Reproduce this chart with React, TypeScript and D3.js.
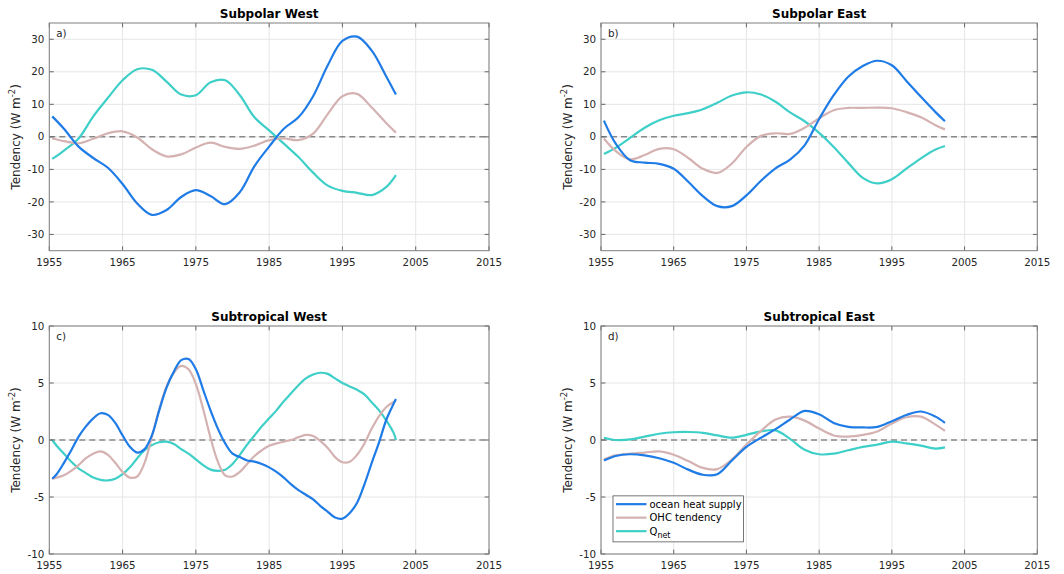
import React from 'react';
import * as d3 from 'd3';

const W = 1064;
const H = 574;
const FONT = 'DejaVu Sans, sans-serif';

// colours
const C_OHS = '#1f7be6';
const C_OHC = '#d5b2b2';
const C_QNET = '#3ecfc8';

// shared x ticks
const xTicks = [1955, 1965, 1975, 1985, 1995, 2005, 2015];
const yTicksPolar = [-30, -20, -10, 0, 10, 20, 30];
const yTicksTrop = [-10, -5, 0, 5, 10];

// coarse years (panels a, b, d)
const years = [1955.4, 1957, 1959, 1961, 1963, 1965, 1967, 1969, 1971, 1973, 1975, 1977, 1979,
  1981, 1983, 1985, 1987, 1989, 1991, 1993, 1995, 1997, 1999, 2001, 2002.3];

// annual years (panel c)
const yearsAnnual = [1955.4, 1956, 1957, 1958, 1959, 1960, 1961, 1962, 1963, 1964, 1965, 1966, 1967,
  1968, 1969, 1970, 1971, 1972, 1973, 1974, 1975, 1976, 1977, 1978, 1979, 1980, 1981, 1982, 1983,
  1984, 1985, 1986, 1987, 1988, 1989, 1990, 1991, 1992, 1993, 1994, 1995, 1996, 1997, 1998, 1999,
  2000, 2001, 2002, 2002.3];

// a) Subpolar West
const spwOHS = [6.3, 2.5, -3, -6.5, -9.5, -14.5, -20.5, -24, -22.5, -18.5, -16.4, -18.2, -20.7,
  -17, -9, -3, 2.5, 6, 12.5, 22, 29.5, 30.8, 26.5, 18.5, 13];
const spwOHC = [-0.5, -1.3, -2, -0.6, 1.1, 1.7, -0.2, -3.8, -6, -5.4, -3.3, -1.8, -3.1,
  -3.7, -2.7, -1, -0.5, -1, 1, 7, 12.5, 13.2, 9, 4.2, 1.3];
const spwQnet = [-6.8, -4.2, -0.5, 6.3, 12, 17.4, 20.8, 20.6, 17, 13, 12.8, 16.8, 17.4,
  12.8, 6, 2, -2.1, -6.2, -11, -15, -16.6, -17.2, -17.9, -15.4, -11.8];

// b) Subpolar East
const speOHS = [5, -2, -7.2, -7.9, -8.3, -9.8, -13.8, -18.2, -21.3, -21.3, -18, -13.5, -9.7,
  -7, -2.6, 5.5, 12.8, 18.5, 21.8, 23.4, 22, 17.2, 12.3, 7.6, 4.8];
const speOHC = [-0.5, -4.3, -6.9, -5.6, -3.7, -3.8, -6.5, -9.8, -11.1, -8.2, -3.1, 0.3, 1.1,
  0.9, 2.8, 5.7, 8.2, 8.9, 8.9, 9, 8.8, 7.6, 6, 3.6, 2.3];
const speQnet = [-5.3, -3.4, -0.3, 2.8, 5.1, 6.5, 7.3, 8.5, 10.5, 12.7, 13.7, 13, 10.8,
  7.5, 4.8, 1.2, -3.1, -8, -12.6, -14.3, -13, -9.8, -6.6, -3.9, -2.8];

// c) Subtropical West (annual)
const stwOHS = [-3.4, -3.0, -2.0, -0.9, 0.3, 1.2, 1.9, 2.35, 2.2, 1.5, 0.4, -0.6, -1.1,
  -0.8, 0.4, 2.6, 4.6, 6.0, 7.0, 7.1, 6.2, 4.4, 2.6, 1.0, -0.3, -1.2, -1.5, -1.8, -1.9,
  -2.1, -2.4, -2.8, -3.3, -3.9, -4.4, -4.8, -5.2, -5.8, -6.3, -6.8, -6.9, -6.4, -5.5, -3.9, -2.0,
  -0.2, 1.8, 3.2, 3.6];
const stwOHC = [-3.4, -3.3, -3.1, -2.7, -2.2, -1.6, -1.2, -1.0, -1.3, -2.0, -2.8, -3.3, -3.2,
  -2.0, 0.3, 2.7, 4.7, 5.9, 6.5, 6.2, 4.9, 2.7, 0.2, -1.9, -3.1, -3.2, -2.8, -2.1, -1.4,
  -0.9, -0.5, -0.3, -0.15, 0, 0.25, 0.45, 0.35, -0.1, -0.7, -1.5, -1.95, -1.9, -1.3, -0.3, 1.0,
  2.1, 2.9, 3.35, 3.5];
const stwQnet = [0, -0.5, -1.2, -1.9, -2.5, -2.9, -3.3, -3.5, -3.55, -3.4, -3.0, -2.4, -1.6,
  -0.9, -0.45, -0.2, -0.15, -0.35, -0.8, -1.2, -1.7, -2.2, -2.6, -2.7, -2.6, -2.1, -1.3, -0.4, 0.4,
  1.2, 1.9, 2.6, 3.4, 4.1, 4.8, 5.4, 5.75, 5.9, 5.8, 5.4, 5.0, 4.7, 4.4, 4.0, 3.3,
  2.6, 1.7, 0.6, 0];

// d) Subtropical East
const steOHS = [-1.8, -1.4, -1.25, -1.35, -1.6, -2.0, -2.6, -3.05, -3.0, -1.8, -0.6, 0.2, 0.95,
  1.8, 2.55, 2.25, 1.5, 1.15, 1.1, 1.15, 1.65, 2.2, 2.5, 2.05, 1.5];
const steOHC = [-1.7, -1.35, -1.2, -1.1, -1.0, -1.3, -1.85, -2.45, -2.55, -1.7, -0.4, 0.8, 1.8,
  2.05, 1.7, 1.0, 0.4, 0.3, 0.45, 0.75, 1.45, 2.0, 2.05, 1.35, 0.8];
const steQnet = [0.2, 0, 0.05, 0.3, 0.55, 0.68, 0.7, 0.63, 0.4, 0.2, 0.45, 0.75, 0.85,
  0.1, -0.85, -1.25, -1.2, -0.9, -0.6, -0.4, -0.15, -0.3, -0.5, -0.75, -0.65];

const seriesNames = ['ocean heat supply', 'OHC tendency', 'Q'];

type Props = {
  left: number; right: number; top: number; bottom: number;
  title: string; tag: string; ymax: number; yTicks: number[];
  xs: number[]; ohs: number[]; ohc: number[]; qnet: number[]; legend?: boolean;
};

function Panel(p: Props) {
  const x = d3.scaleLinear().domain([1955, 2015]).range([p.left, p.right]);
  const y = d3.scaleLinear().domain([-p.ymax, p.ymax]).range([p.bottom, p.top]);
  const line = (vals: number[]) =>
    d3.line<number>().x((d, i) => x(p.xs[i])).y(d => y(d)).curve(d3.curveCatmullRom.alpha(0.5))(vals) || '';
  const tl = 4.4;
  const midY = (p.top + p.bottom) / 2;
  const lx = p.left + 11;
  const ly = p.top + (p.bottom - p.top) * 0.745;
  return (
    <g fontFamily={FONT}>
      <rect x={p.left} y={p.top} width={p.right - p.left} height={p.bottom - p.top} fill="#fff" />
      {xTicks.map(t => (
        <line key={'gx' + t} x1={x(t)} x2={x(t)} y1={p.top} y2={p.bottom} stroke="#e6e6e6" strokeWidth={1} />
      ))}
      {p.yTicks.map(t => (
        <line key={'gy' + t} x1={p.left} x2={p.right} y1={y(t)} y2={y(t)} stroke="#e6e6e6" strokeWidth={1} />
      ))}
      <line x1={p.left} x2={p.right} y1={y(0)} y2={y(0)} stroke="#555" strokeWidth={1} strokeDasharray="6,4" />
      <path d={line(p.qnet)} fill="none" stroke={C_QNET} strokeWidth={2.2} />
      <path d={line(p.ohc)} fill="none" stroke={C_OHC} strokeWidth={2.2} />
      <path d={line(p.ohs)} fill="none" stroke={C_OHS} strokeWidth={2.2} />
      {/* ticks, inward on all sides */}
      {xTicks.map(t => (
        <g key={'tx' + t}>
          <line x1={x(t)} x2={x(t)} y1={p.bottom} y2={p.bottom - tl} stroke="#666" />
          <line x1={x(t)} x2={x(t)} y1={p.top} y2={p.top + tl} stroke="#666" />
          <text x={x(t)} y={p.bottom + 15} textAnchor="middle" fontSize={10.3} fill="#262626">{t}</text>
        </g>
      ))}
      {p.yTicks.map(t => (
        <g key={'ty' + t}>
          <line x1={p.left} x2={p.left + tl} y1={y(t)} y2={y(t)} stroke="#666" />
          <line x1={p.right} x2={p.right - tl} y1={y(t)} y2={y(t)} stroke="#666" />
          <text x={p.left - 5} y={y(t)} dy="0.35em" textAnchor="end" fontSize={10.3} fill="#262626">{t}</text>
        </g>
      ))}
      <rect x={p.left} y={p.top} width={p.right - p.left} height={p.bottom - p.top} fill="none" stroke="#7f7f7f" strokeWidth={1} />
      <text x={(p.left + p.right) / 2} y={p.top - 5} textAnchor="middle" fontSize={12} fontWeight="bold" fill="#000">{p.title}</text>
      <text x={p.left + 7} y={p.top + 14} fontSize={10.3} fill="#262626">{p.tag}</text>
      <text transform={`translate(${p.left - 29},${midY}) rotate(-90)`} textAnchor="middle" fontSize={12} fill="#262626">
        Tendency (W m<tspan dy="-5" fontSize={8.5}>-2</tspan><tspan dy="5">)</tspan>
      </text>
      {p.legend && (
        <g>
          <rect x={lx + 1} y={ly} width={130.5} height={46} fill="#fff" stroke="#555" strokeWidth={0.8} />
          {[C_OHS, C_OHC, C_QNET].map((c, i) => (
            <g key={'lg' + i}>
              <line x1={lx + 4} x2={lx + 34.5} y1={ly + 8.3 + i * 13.5} y2={ly + 8.3 + i * 13.5} stroke={c} strokeWidth={2.2} />
              <text x={lx + 37.5} y={ly + 8.3 + i * 13.5} dy="0.35em" fontSize={10} fill="#000">
                {seriesNames[i]}
                {i === 2 && <tspan dy="3" fontSize={8}>net</tspan>}
              </text>
            </g>
          ))}
        </g>
      )}
    </g>
  );
}

export default function App() {
  return (
    <svg width={W} height={H} style={{ position: 'absolute', left: 0, top: 0, background: '#fff' }}>
      <rect width={W} height={H} fill="#fff" />
      <Panel left={49.3} right={489} top={23} bottom={250.7} title="Subpolar West" tag="a)"
        ymax={35} yTicks={yTicksPolar} xs={years} ohs={spwOHS} ohc={spwOHC} qnet={spwQnet} />
      <Panel left={601} right={1037.3} top={23} bottom={250.7} title="Subpolar East" tag="b)"
        ymax={35} yTicks={yTicksPolar} xs={years} ohs={speOHS} ohc={speOHC} qnet={speQnet} />
      <Panel left={49.3} right={489} top={326} bottom={554} title="Subtropical West" tag="c)"
        ymax={10} yTicks={yTicksTrop} xs={yearsAnnual} ohs={stwOHS} ohc={stwOHC} qnet={stwQnet} />
      <Panel left={601} right={1037.3} top={326} bottom={554} title="Subtropical East" tag="d)"
        ymax={10} yTicks={yTicksTrop} xs={years} ohs={steOHS} ohc={steOHC} qnet={steQnet} legend />
    </svg>
  );
}
